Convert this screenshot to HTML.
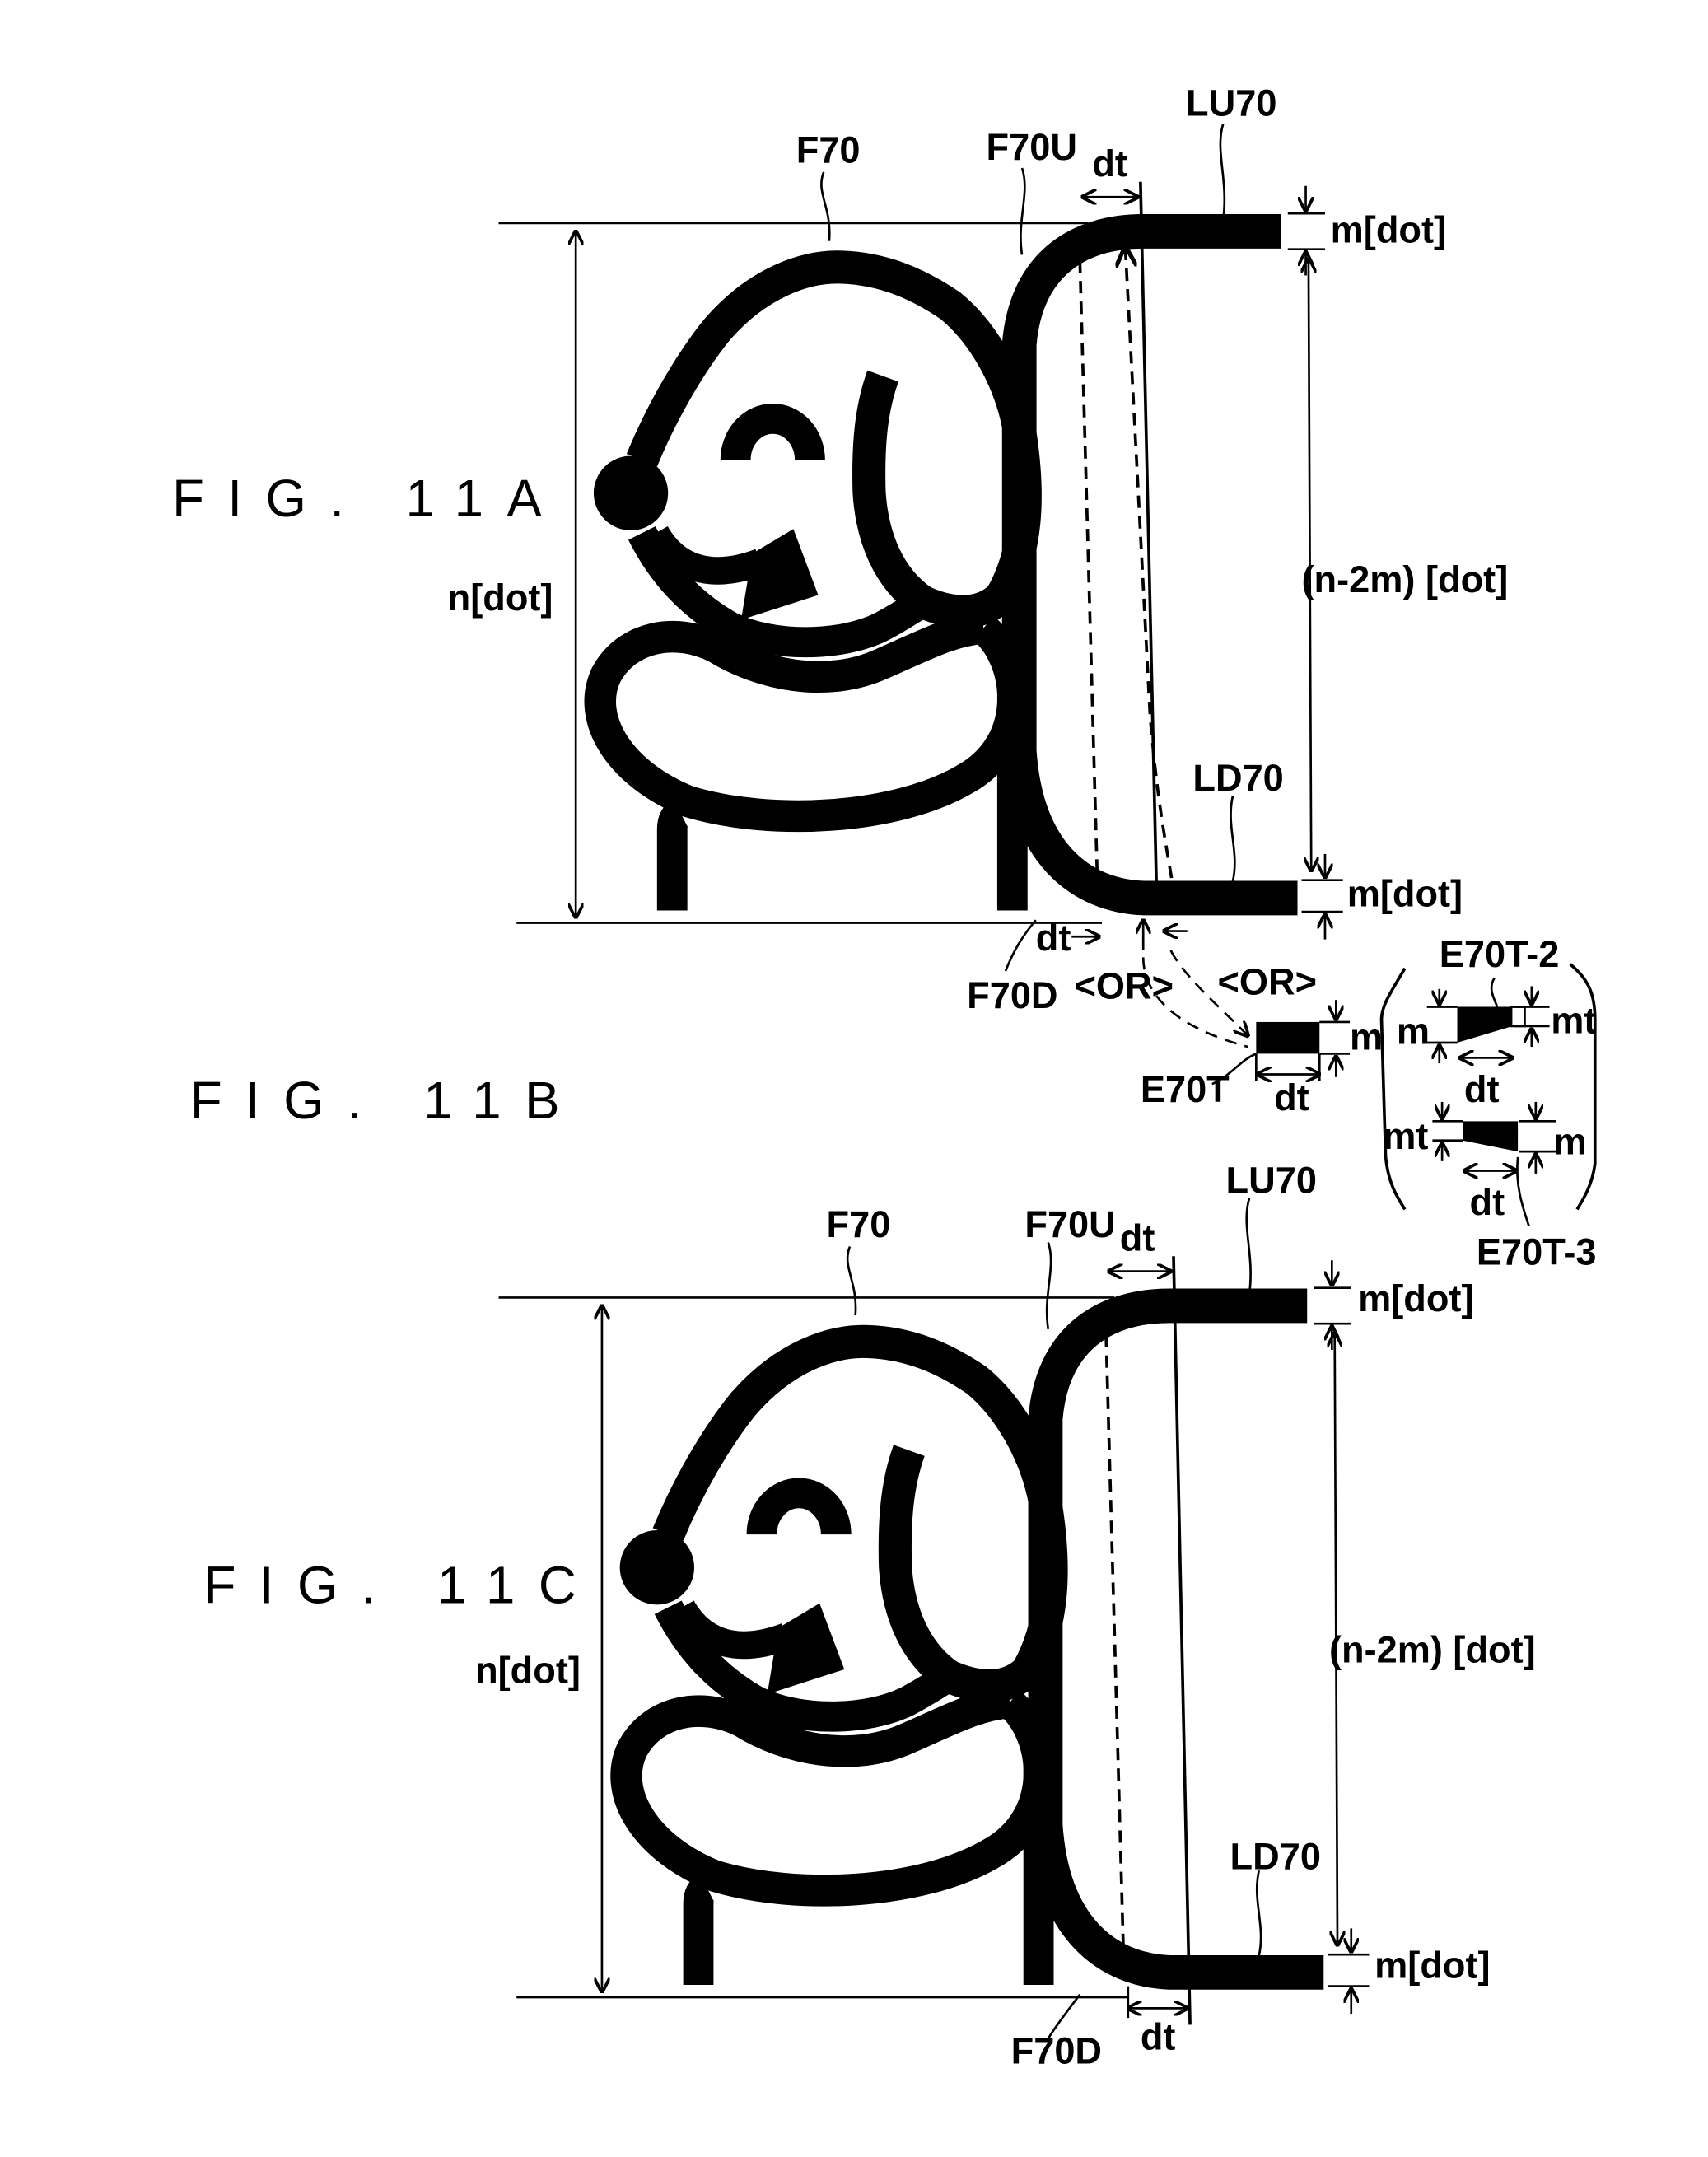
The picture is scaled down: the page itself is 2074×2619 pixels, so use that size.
<!DOCTYPE html>
<html><head><meta charset="utf-8"><style>
html,body{margin:0;padding:0;background:#fff;}
svg{display:block;}
text{font-family:"Liberation Sans Narrow","Liberation Sans",sans-serif;fill:#000;}
.lbl{font-size:27px;font-weight:bold;}
.fig{font-family:"Liberation Sans",sans-serif;font-size:38px;letter-spacing:17px;}
</style></head><body>
<svg width="2074" height="2619" viewBox="0 0 1240 1566" xmlns="http://www.w3.org/2000/svg">
<defs>
<marker id="ah" viewBox="0 0 10 10" refX="9" refY="5" markerWidth="7" markerHeight="7" orient="auto-start-reverse"><path d="M0,0 L10,5 L0,10" fill="none" stroke="#000" stroke-width="2"/></marker>
<g id="dog" fill="none" stroke="#000" stroke-linecap="butt" stroke-linejoin="round">
 <circle cx="458" cy="358" r="27" fill="#000" stroke="none"/>
 <path d="M466 334 C480 300 500 265 520 240 C550 205 585 193 611 194 C640 195 665 205 690 222 C712 240 735 275 741 318 C747 360 746 400 727 433 C712 448 690 446 670 437 C645 420 633 390 631 357 C630 320 633 295 641 273" stroke-width="24"/>
 <path d="M466 387 C480 415 500 438 530 455 C560 470 610 470 640 455 C655 447 665 440 670 437" stroke-width="22"/>
 <path d="M476 387 C490 412 515 422 552 408" stroke-width="20"/>
 <path d="M546 402 L576 384 L594 432 L538 450 Z" fill="#000" stroke="none"/>
 <path d="M534 334 A27 30 0 0 1 588 334" stroke-width="22"/>
 <path d="M714 456 C742 480 748 540 700 566 C650 595 560 600 500 582 C450 562 425 522 440 490 C455 462 490 455 520 470 C552 490 600 500 640 482 C672 468 690 458 714 456" stroke-width="23"/>
 <path d="M488 661 L488 602 Q488 593 494 590" stroke-width="22"/>
 <path d="M735 661 L735 500" stroke-width="22"/>
 <path d="M930 168 L830 168 C785 168 745 190 740 250 L740 545 C745 620 785 650 830 652 L942 652" stroke-width="25"/>
</g>
</defs>

<text class="fig" x="125" y="375">FIG. 11A</text>
<text class="fig" x="138" y="812">FIG. 11B</text>
<text class="fig" x="148" y="1164">FIG. 11C</text>

<g stroke="#000" fill="none" stroke-width="1.6">
 <line x1="362" y1="162" x2="790" y2="162"/>
 <line x1="375" y1="670" x2="800" y2="670"/>
 <line x1="418" y1="168" x2="418" y2="666" marker-start="url(#ah)" marker-end="url(#ah)"/>
 <line x1="784" y1="189" x2="797" y2="650" stroke-dasharray="9,6" stroke-width="2.2"/>
 <path d="M817 180 L835 520 C840 580 846 610 851 640" stroke-dasharray="9,6" stroke-width="2.2" marker-start="url(#ah)"/>
 <line x1="828" y1="132" x2="840" y2="662" stroke-width="2.2"/>
 <line x1="786" y1="143" x2="826" y2="143" marker-start="url(#ah)" marker-end="url(#ah)"/>
 <line x1="950" y1="188" x2="952" y2="632" marker-start="url(#ah)" marker-end="url(#ah)"/>
 <line x1="935" y1="155" x2="962" y2="155"/><line x1="935" y1="181" x2="962" y2="181"/>
 <line x1="948" y1="135" x2="948" y2="153" marker-end="url(#ah)"/><line x1="948" y1="200" x2="948" y2="183" marker-end="url(#ah)"/>
 <line x1="945" y1="639" x2="975" y2="639"/><line x1="945" y1="662" x2="975" y2="662"/>
 <line x1="962" y1="620" x2="962" y2="637" marker-end="url(#ah)"/><line x1="962" y1="682" x2="962" y2="664" marker-end="url(#ah)"/>
 <path d="M598 125 C592 140 604 150 602 175"/>
 <path d="M742 122 C748 140 738 160 742 185"/>
 <path d="M888 90 C882 110 892 130 888 160"/>
 <path d="M895 578 C890 600 900 618 895 640"/>
 <path d="M730 705 C736 690 742 680 752 668"/>
 <line x1="778" y1="680" x2="798" y2="680" marker-end="url(#ah)"/>
 <line x1="862" y1="676" x2="845" y2="676" marker-end="url(#ah)"/>
 <line x1="830" y1="690" x2="830" y2="668" marker-end="url(#ah)"/>
 <path d="M830 695 C830 720 850 745 906 760" stroke-dasharray="9,6"/>
 <path d="M850 690 C860 710 890 735 906 752" stroke-dasharray="9,6" marker-end="url(#ah)"/>
 <line x1="913" y1="780" x2="958" y2="780" marker-start="url(#ah)" marker-end="url(#ah)"/>
 <line x1="912" y1="765" x2="912" y2="785"/><line x1="958" y1="765" x2="958" y2="785"/>
 <line x1="958" y1="742" x2="980" y2="742"/><line x1="958" y1="765" x2="980" y2="765"/>
 <line x1="970" y1="726" x2="970" y2="740" marker-end="url(#ah)"/><line x1="970" y1="782" x2="970" y2="767" marker-end="url(#ah)"/>
 <path d="M880 787 C895 780 900 770 912 765"/>
 <path d="M1020 703 C1010 720 1003 730 1003 740 L1006 840 C1008 860 1015 870 1020 878" stroke-width="2.2"/>
 <path d="M1140 700 C1152 710 1158 720 1158 740 L1158 845 C1156 860 1150 870 1145 878" stroke-width="2.2"/>
 <line x1="1036" y1="731" x2="1058" y2="731"/><line x1="1036" y1="757" x2="1058" y2="757"/>
 <line x1="1045" y1="718" x2="1045" y2="729" marker-end="url(#ah)"/><line x1="1045" y1="772" x2="1045" y2="759" marker-end="url(#ah)"/>
 <line x1="1060" y1="768" x2="1098" y2="768" marker-start="url(#ah)" marker-end="url(#ah)"/>
 <rect x="1097" y="731" width="10" height="14" fill="#fff"/>
 <line x1="1100" y1="731" x2="1125" y2="731"/><line x1="1100" y1="745" x2="1125" y2="745"/>
 <line x1="1112" y1="716" x2="1112" y2="729" marker-end="url(#ah)"/><line x1="1112" y1="760" x2="1112" y2="747" marker-end="url(#ah)"/>
 <path d="M1085 710 C1080 718 1085 725 1087 731"/>
 <line x1="1040" y1="814" x2="1062" y2="814"/><line x1="1040" y1="828" x2="1062" y2="828"/>
 <line x1="1047" y1="800" x2="1047" y2="812" marker-end="url(#ah)"/><line x1="1047" y1="843" x2="1047" y2="830" marker-end="url(#ah)"/>
 <line x1="1063" y1="850" x2="1101" y2="850" marker-start="url(#ah)" marker-end="url(#ah)"/>
 <line x1="1103" y1="814" x2="1130" y2="814"/><line x1="1103" y1="836" x2="1130" y2="836"/>
 <line x1="1115" y1="800" x2="1115" y2="812" marker-end="url(#ah)"/><line x1="1115" y1="852" x2="1115" y2="838" marker-end="url(#ah)"/>
 <path d="M1102 840 C1100 860 1105 875 1110 890"/>
</g>
<rect x="912" y="742" width="46" height="23" fill="#000"/>
<path d="M1058 731 L1098 731 L1098 745 L1058 757 Z" fill="#000"/>
<path d="M1062 814 L1102 814 L1102 836 L1062 828 Z" fill="#000"/>

<use href="#dog"/>

<text class="lbl" x="578" y="118">F70</text>
<text class="lbl" x="716" y="116">F70U</text>
<text class="lbl" x="793" y="128">dt</text>
<text class="lbl" x="861" y="84">LU70</text>
<text class="lbl" x="966" y="176">m[dot]</text>
<text class="lbl" x="325" y="443">n[dot]</text>
<text class="lbl" x="945" y="430">(n-2m) [dot]</text>
<text class="lbl" x="866" y="574">LD70</text>
<text class="lbl" x="978" y="658">m[dot]</text>
<text class="lbl" x="752" y="690">dt</text>
<text class="lbl" x="702" y="732">F70D</text>
<text class="lbl" x="780" y="725">&lt;OR&gt;</text>
<text class="lbl" x="884" y="722">&lt;OR&gt;</text>
<text class="lbl" x="828" y="800">E70T</text>
<text class="lbl" x="925" y="806">dt</text>
<text class="lbl" x="980" y="762">m</text>
<text class="lbl" x="1045" y="702">E70T-2</text>
<text class="lbl" x="1014" y="758">m</text>
<text class="lbl" x="1126" y="750">mt</text>
<text class="lbl" x="1063" y="800">dt</text>
<text class="lbl" x="1004" y="834">mt</text>
<text class="lbl" x="1128" y="838">m</text>
<text class="lbl" x="1067" y="882">dt</text>
<text class="lbl" x="1072" y="918">E70T-3</text>

<g transform="translate(19,780)">
 <use href="#dog"/>
 <g stroke="#000" fill="none" stroke-width="1.6">
  <line x1="343" y1="162" x2="790" y2="162"/>
  <line x1="356" y1="670" x2="800" y2="670"/>
  <line x1="418" y1="168" x2="418" y2="666" marker-start="url(#ah)" marker-end="url(#ah)"/>
  <line x1="784" y1="189" x2="797" y2="650" stroke-dasharray="9,6" stroke-width="2.2"/>
  <line x1="833" y1="132" x2="845" y2="690" stroke-width="2.2"/>
  <line x1="786" y1="143" x2="831" y2="143" marker-start="url(#ah)" marker-end="url(#ah)"/>
  <line x1="800" y1="678" x2="843" y2="678" marker-start="url(#ah)" marker-end="url(#ah)"/>
  <line x1="800" y1="662" x2="800" y2="685"/>
  <line x1="950" y1="188" x2="952" y2="632" marker-start="url(#ah)" marker-end="url(#ah)"/>
  <line x1="935" y1="155" x2="962" y2="155"/><line x1="935" y1="181" x2="962" y2="181"/>
  <line x1="948" y1="135" x2="948" y2="153" marker-end="url(#ah)"/><line x1="948" y1="200" x2="948" y2="183" marker-end="url(#ah)"/>
  <line x1="945" y1="639" x2="975" y2="639"/><line x1="945" y1="662" x2="975" y2="662"/>
  <line x1="962" y1="620" x2="962" y2="637" marker-end="url(#ah)"/><line x1="962" y1="682" x2="962" y2="664" marker-end="url(#ah)"/>
  <path d="M598 125 C592 140 604 150 602 175"/>
  <path d="M742 122 C748 140 738 160 742 185"/>
  <path d="M888 90 C882 110 892 130 888 160"/>
  <path d="M895 578 C890 600 900 618 895 640"/>
  <path d="M742 700 C748 690 756 680 765 668"/>
 </g>
</g>
<text class="lbl" x="600" y="898">F70</text>
<text class="lbl" x="744" y="898">F70U</text>
<text class="lbl" x="813" y="908">dt</text>
<text class="lbl" x="890" y="866">LU70</text>
<text class="lbl" x="986" y="952">m[dot]</text>
<text class="lbl" x="345" y="1222">n[dot]</text>
<text class="lbl" x="965" y="1207">(n-2m) [dot]</text>
<text class="lbl" x="893" y="1357">LD70</text>
<text class="lbl" x="998" y="1436">m[dot]</text>
<text class="lbl" x="828" y="1488">dt</text>
<text class="lbl" x="734" y="1498">F70D</text>
</svg>
</body></html>
